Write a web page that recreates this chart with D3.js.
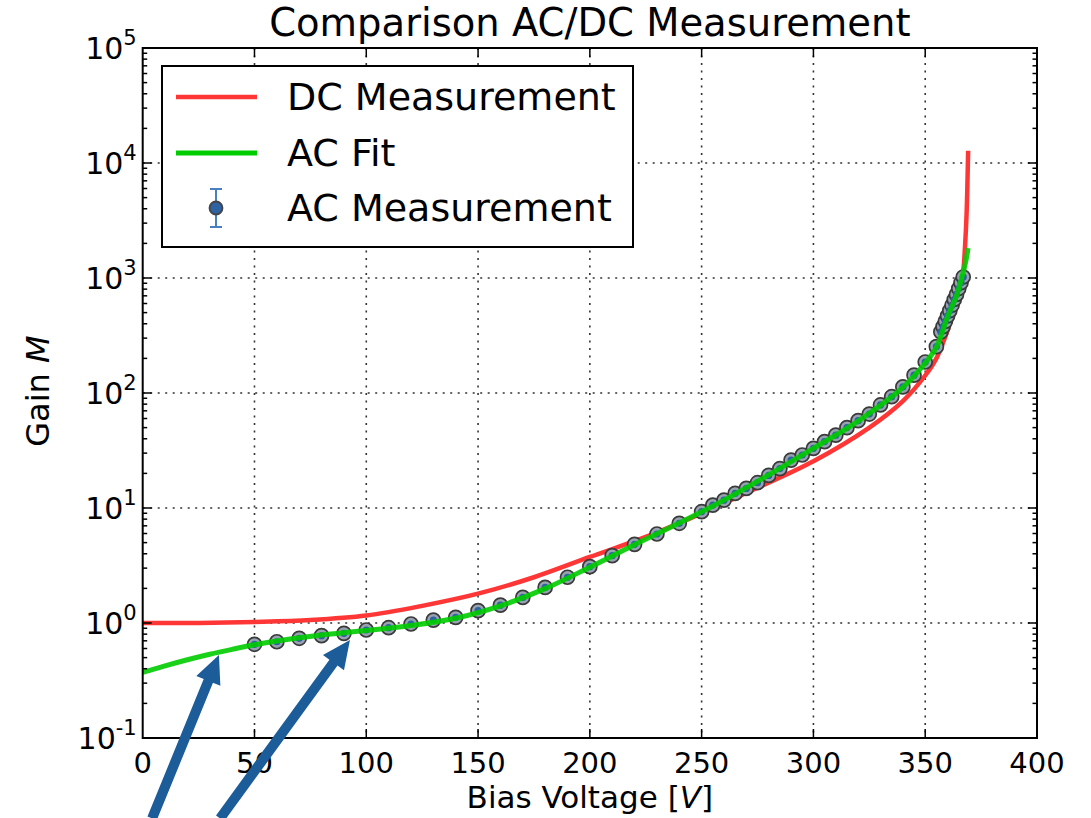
<!DOCTYPE html>
<html>
<head>
<meta charset="utf-8">
<script src="https://cdn.jsdelivr.net/npm/d3@7"></script>
<style>
  html, body { margin: 0; padding: 0; background: #fff; }
  svg { display: block; font-family: "DejaVu Sans", sans-serif; }
</style>
</head>
<body>
<svg id="chart" width="1091" height="818"></svg>
<script>
// Gain versus bias voltage: DC measurement, AC fit and AC measurement points
const titleText = "Comparison AC/DC Measurement";
const seriesNames = ["DC Measurement", "AC Fit", "AC Measurement"];

const xTicks = [0, 50, 100, 150, 200, 250, 300, 350, 400];
const yExponents = [-1, 0, 1, 2, 3, 4, 5];

// DC measurement curve
const dcVolts = [0, 25, 50, 75, 100, 125, 150, 175, 200, 225, 250, 275, 300, 325, 340, 350, 355, 360, 363, 365, 367, 367.8, 368.5, 369.2];
const dcGain  = [1.0, 1.0, 1.02, 1.06, 1.16, 1.41, 1.8, 2.5, 3.75, 5.6, 9.0, 15.0, 25.5, 50, 85, 142, 200, 350, 520, 720, 1150, 1870, 3600, 12800];

// AC fit curve
const fitVolts = [0, 10, 20, 30, 40, 50, 60, 70, 80, 90, 100, 120, 140, 160, 180, 200, 220, 240, 260, 280, 300, 320, 340, 350, 355, 360, 364, 366, 368, 369.2];
const fitGain  = [0.372, 0.424, 0.479, 0.535, 0.59, 0.646, 0.697, 0.745, 0.787, 0.824, 0.859, 0.95, 1.1, 1.41, 1.99, 3.06, 4.8, 7.4, 11.7, 19.4, 33, 57, 112, 182, 250, 460, 700, 950, 1350, 1820];

// AC measurement points
const acVolts = [50, 60, 70, 80, 90, 100, 110, 120, 130, 140, 150, 160, 170, 180, 190, 200, 210, 220, 230, 240,
                 250, 255, 260, 265, 270, 275, 280, 285, 290, 295, 300, 305, 310, 315, 320, 325, 330, 335, 340, 345, 350, 355,
                 357, 358, 359, 360, 361, 362, 363, 364, 365, 366, 367];
const acGain  = [0.653, 0.687, 0.736, 0.776, 0.813, 0.869, 0.91, 0.98, 1.06, 1.12, 1.28, 1.43, 1.67, 2.04, 2.5, 3.09, 3.85, 4.83, 5.94, 7.36,
                 9.29, 10.6, 11.7, 13.4, 14.8, 16.6, 19.2, 22.0, 26.1, 28.9, 33, 37.8, 43, 50, 57.5, 65.6, 78.7, 92.9, 113, 143, 186, 253,
                 340, 378, 420, 468, 520, 580, 650, 720, 810, 910, 1020];

// Annotation arrows (tail, head) in data units
const arrowTails = [[4.2, 0.02], [34.6, 0.02]];
const arrowHeads = [[34.1, 0.527], [92.7, 0.711]];

const colors = { dc: "#ff3636", fit: "#00cc00", ac: "#2d62a3", err: "#4a7fc0", arrow: "#1b5c99" };

const svg = d3.select("#chart");
const plot = { left: 142.7, right: 1037, top: 48, bottom: 738 };

const x = d3.scaleLinear().domain([0, 400]).range([plot.left, plot.right]);
const y = d3.scaleLog().domain([0.1, 1e5]).range([plot.bottom, plot.top]);

svg.append("defs").append("clipPath").attr("id", "plotClip")
  .append("rect").attr("x", plot.left).attr("y", plot.top)
  .attr("width", plot.right - plot.left).attr("height", plot.bottom - plot.top);

// Grid (dotted, at major ticks)
const grid = svg.append("g").attr("stroke", "#333").attr("stroke-width", 1.6).attr("stroke-dasharray", "2,5.5");
grid.selectAll("line.gx").data(xTicks.slice(1, -1)).join("line")
  .attr("x1", d => x(d)).attr("x2", d => x(d)).attr("y1", plot.top).attr("y2", plot.bottom);
grid.selectAll("line.gy").data(yExponents.slice(1, -1)).join("line")
  .attr("y1", d => y(Math.pow(10, d))).attr("y2", d => y(Math.pow(10, d))).attr("x1", plot.left).attr("x2", plot.right);

const g = svg.append("g").attr("clip-path", "url(#plotClip)");
const line = d3.line().x(d => x(d[0])).y(d => y(d[1])).curve(d3.curveCatmullRom.alpha(0.5));

g.append("path").datum(dcVolts.map((v, i) => [v, dcGain[i]]))
  .attr("fill", "none").attr("stroke", colors.dc).attr("stroke-width", 4.5).attr("d", line);

// AC measurement markers
const acPts = acVolts.map((v, i) => [v, acGain[i]]);
g.selectAll("circle.ac").data(acPts).join("circle")
  .attr("cx", d => x(d[0])).attr("cy", d => y(d[1])).attr("r", 7)
  .attr("fill", "#98a2b0").attr("stroke", "#3a3a3a").attr("stroke-width", 1.7);
g.selectAll("circle.acin").data(acPts).join("circle")
  .attr("cx", d => x(d[0])).attr("cy", d => y(d[1])).attr("r", 3.6)
  .attr("fill", colors.ac);

g.append("path").datum(fitVolts.map((v, i) => [v, fitGain[i]]))
  .attr("fill", "none").attr("stroke", colors.fit).attr("stroke-width", 5).attr("stroke-opacity", 0.9).attr("d", line);

// Frame
svg.append("rect").attr("x", plot.left).attr("y", plot.top)
  .attr("width", plot.right - plot.left).attr("height", plot.bottom - plot.top)
  .attr("fill", "none").attr("stroke", "#000").attr("stroke-width", 2);

// Ticks on all four sides, pointing inward
const ticks = svg.append("g").attr("stroke", "#000").attr("stroke-width", 1.5);
xTicks.slice(1, -1).forEach(v => {
  ticks.append("line").attr("x1", x(v)).attr("x2", x(v)).attr("y1", plot.bottom).attr("y2", plot.bottom - 9);
  ticks.append("line").attr("x1", x(v)).attr("x2", x(v)).attr("y1", plot.top).attr("y2", plot.top + 9);
});
yExponents.forEach(e => {
  const base = Math.pow(10, e);
  ticks.append("line").attr("y1", y(base)).attr("y2", y(base)).attr("x1", plot.left).attr("x2", plot.left + 9);
  ticks.append("line").attr("y1", y(base)).attr("y2", y(base)).attr("x1", plot.right).attr("x2", plot.right - 9);
  if (e < 5) {
    for (let m = 2; m <= 9; m++) {
      const yy = y(base * m);
      ticks.append("line").attr("y1", yy).attr("y2", yy).attr("x1", plot.left).attr("x2", plot.left + 4.5);
      ticks.append("line").attr("y1", yy).attr("y2", yy).attr("x1", plot.right).attr("x2", plot.right - 4.5);
    }
  }
});

// Tick labels
svg.append("g").selectAll("text").data(xTicks).join("text")
  .attr("x", d => x(d)).attr("y", plot.bottom + 35)
  .attr("text-anchor", "middle").attr("font-size", 29).attr("fill", "#000")
  .text(d => d);

const yl = svg.append("g").selectAll("text").data(yExponents).join("text")
  .attr("x", plot.left - 6).attr("y", d => y(Math.pow(10, d)) + 11)
  .attr("text-anchor", "end").attr("font-size", 30).attr("fill", "#000");
yl.append("tspan").text("10");
yl.append("tspan").attr("dy", -14).attr("font-size", 21).text(d => d === -1 ? "-1" : String(d));

// Axis labels
const xl = svg.append("text").attr("x", (plot.left + plot.right) / 2).attr("y", 808)
  .attr("text-anchor", "middle").attr("font-size", 31).attr("fill", "#000");
xl.append("tspan").text("Bias Voltage [");
xl.append("tspan").attr("font-style", "italic").text("V");
xl.append("tspan").text("]");

const ylab = svg.append("text").attr("transform", "translate(49, 391) rotate(-90)")
  .attr("text-anchor", "middle").attr("font-size", 32).attr("fill", "#000");
ylab.append("tspan").text("Gain ");
ylab.append("tspan").attr("font-style", "italic").text("M");

// Title
svg.append("text").attr("x", (plot.left + plot.right) / 2).attr("y", 36)
  .attr("text-anchor", "middle").attr("font-size", 38.5).attr("fill", "#000").text(titleText);

// Legend
const lg = svg.append("g");
lg.append("rect").attr("x", 162).attr("y", 66).attr("width", 471).attr("height", 181)
  .attr("fill", "#fff").attr("stroke", "#000").attr("stroke-width", 2);
const rows = [97, 153, 208];
lg.append("line").attr("x1", 176).attr("x2", 257).attr("y1", rows[0]).attr("y2", rows[0])
  .attr("stroke", colors.dc).attr("stroke-width", 4.5);
lg.append("line").attr("x1", 176).attr("x2", 257).attr("y1", rows[1]).attr("y2", rows[1])
  .attr("stroke", colors.fit).attr("stroke-width", 5);
lg.append("line").attr("x1", 216).attr("x2", 216).attr("y1", rows[2] - 19).attr("y2", rows[2] + 19)
  .attr("stroke", colors.err).attr("stroke-width", 2);
[rows[2] - 19, rows[2] + 19].forEach(cy => lg.append("line").attr("x1", 210).attr("x2", 222)
  .attr("y1", cy).attr("y2", cy).attr("stroke", colors.err).attr("stroke-width", 2));
lg.append("circle").attr("cx", 216).attr("cy", rows[2]).attr("r", 6.5)
  .attr("fill", colors.ac).attr("stroke", "#444").attr("stroke-width", 1.8);
lg.selectAll("text.lt").data(seriesNames).join("text")
  .attr("x", 287).attr("y", (d, i) => rows[i] + 13).attr("font-size", 38).attr("fill", "#000")
  .text(d => d);

// Annotation arrows
const arrows = svg.append("g").attr("fill", colors.arrow);
arrowTails.forEach((t, i) => {
  const h = arrowHeads[i];
  const x0 = x(t[0]), y0 = y(t[1]), x1 = x(h[0]), y1 = y(h[1]);
  const len = Math.hypot(x1 - x0, y1 - y0);
  const ux = (x1 - x0) / len, uy = (y1 - y0) / len;
  const px = -uy, py = ux;
  const shaft = 5, head = 13, headLen = 28;
  const bx = x1 - ux * headLen, by = y1 - uy * headLen;
  const pts = [
    [x0 + px * shaft, y0 + py * shaft],
    [bx + px * shaft, by + py * shaft],
    [bx + px * head, by + py * head],
    [x1, y1],
    [bx - px * head, by - py * head],
    [bx - px * shaft, by - py * shaft],
    [x0 - px * shaft, y0 - py * shaft]
  ];
  arrows.append("polygon").attr("points", pts.map(p => p.join(",")).join(" "));
});
</script>
</body>
</html>
